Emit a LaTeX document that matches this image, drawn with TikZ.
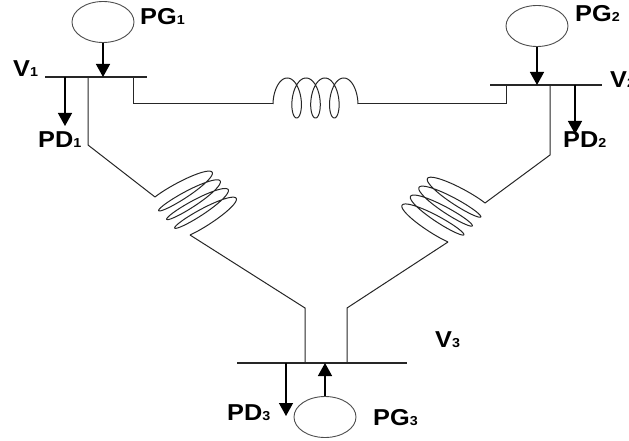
\documentclass[tikz,border=0pt]{standalone}
\usepackage{fontspec}
\newfontfamily\lblfont{Liberation Sans}[FakeStretch=1.1]
\usetikzlibrary{arrows.meta,shapes.geometric}

\newcommand{\busidx}[1]{{\fontsize{13}{13}\selectfont #1}}
% coil: start x, start y, axis vector, loop vector, domain
\newcommand{\coil}[8]{%
  \draw[wire] plot[domain=#7:#8, samples=400, variable=\t]
    ({#1 + (3*rad(\t) - 9*sin(\t) - 3*rad(#7) + 9*sin(#7))*#3 + (20*cos(\t) - 20*cos(#7))*#5},
     {#2 + (3*rad(\t) - 9*sin(\t) - 3*rad(#7) + 9*sin(#7))*#4 + (20*cos(\t) - 20*cos(#7))*#6});}

\tikzset{
  wire/.style={draw=black!85, line width=1pt},
  bus/.style={draw=black!85, line width=1.1pt},
  flow/.style={draw=black, line width=1.4pt, -{Triangle[width=14pt,length=13pt]}},
  gen/.style={ellipse, draw=black!70, line width=0.9pt, minimum width=62pt, minimum height=41pt, inner sep=0pt},
  lbl/.style={anchor=base west, inner sep=0pt, font=\lblfont\bfseries\fontsize{23}{23}\selectfont}
}

\begin{document}
\begin{tikzpicture}[x=1pt,y=-1pt]
  \useasboundingbox (0,0) rectangle (629,441);

  \begin{scope}
    \coordinate (b1w) at (45,77);
    \coordinate (b1e) at (147,77);
    \coordinate (b2w) at (490,85);
    \coordinate (b2e) at (602,85);
    \coordinate (b3w) at (237,363);
    \coordinate (b3e) at (407,363);

    \coordinate (d1a) at (65,77);
    \coordinate (d1b) at (65,126);
    \coordinate (d2a) at (575,85);
    \coordinate (d2b) at (575,134);
    \coordinate (d3a) at (286,363);
    \coordinate (d3b) at (286,416);

    \coordinate (l1a) at (88,77);
    \coordinate (l1b) at (88,145);
    \coordinate (c1s) at (155,197);
    \coordinate (c1e) at (190,235);
    \coordinate (l3a) at (305,308);
    \coordinate (l3b) at (305,363);

    \coordinate (l2a) at (550,85);
    \coordinate (l2b) at (550,155);
    \coordinate (c2s) at (485,203);
    \coordinate (c2e) at (448,242);
    \coordinate (l4a) at (347,308);
    \coordinate (l4b) at (347,363);

    \coordinate (s1a) at (133,77);
    \coordinate (s1b) at (133,104);
    \coordinate (c0s) at (273,104);
    \coordinate (c0e) at (358,104);
    \coordinate (s2b) at (506,104);
    \coordinate (s2a) at (506,85);
  \end{scope}

  \begin{scope}[every node/.style={gen}]
    \node (g1) at (103,22)  {};
    \node (g2) at (537,26)  {};
    \node (g3) at (325,417) {};
  \end{scope}

  \draw[bus] (b1w) -- (b1e);
  \draw[bus] (b2w) -- (b2e);
  \draw[bus] (b3w) -- (b3e);

  \draw[wire] (l1a) -- (l1b) -- (c1s);
  \draw[wire] (c1e) -- (l3a) -- (l3b);
  \draw[wire] (l2a) -- (l2b) -- (c2s);
  \draw[wire] (c2e) -- (l4a) -- (l4b);
  \draw[wire] (s1a) -- (s1b) -- (c0s);
  \draw[wire] (c0e) -- (s2b) -- (s2a);

  \coil{273}{104}{1}{0}{0}{1}{72.54}{1367.46}
  \coil{155}{197}{0.425}{0.461}{-1.43}{0.86}{36.87}{1403.13}
  \coil{485}{203}{-0.449}{0.473}{1.43}{0.86}{36.87}{1403.13}

  \draw[flow] (g1.south) -- (g1.south |- b1w);
  \draw[flow] (g2.south) -- (g2.south |- b2w);
  \draw[flow] (g3.north) -- (g3.north |- b3w);
  \draw[flow] (d1a) -- (d1b);
  \draw[flow] (d2a) -- (d2b);
  \draw[flow] (d3a) -- (d3b);

  \begin{scope}[every node/.style={lbl}]
    \node (pg1) at (140,25)  {PG\busidx{1}};
    \node (pg2) at (575,22)  {PG\busidx{2}};
    \node (pg3) at (373,425) {PG\busidx{3}};
    \node (pd1) at (38,148)  {PD\busidx{1}};
    \node (pd2) at (563,148) {PD\busidx{2}};
    \node (pd3) at (227,420) {PD\busidx{3}};
    \node (v1)  at (13,77)   {V\busidx{1}};
    \node (v2)  at (610,88)  {V\busidx{2}};
    \node (v3)  at (435,347) {V\busidx{3}};
  \end{scope}

\end{tikzpicture}
\end{document}
